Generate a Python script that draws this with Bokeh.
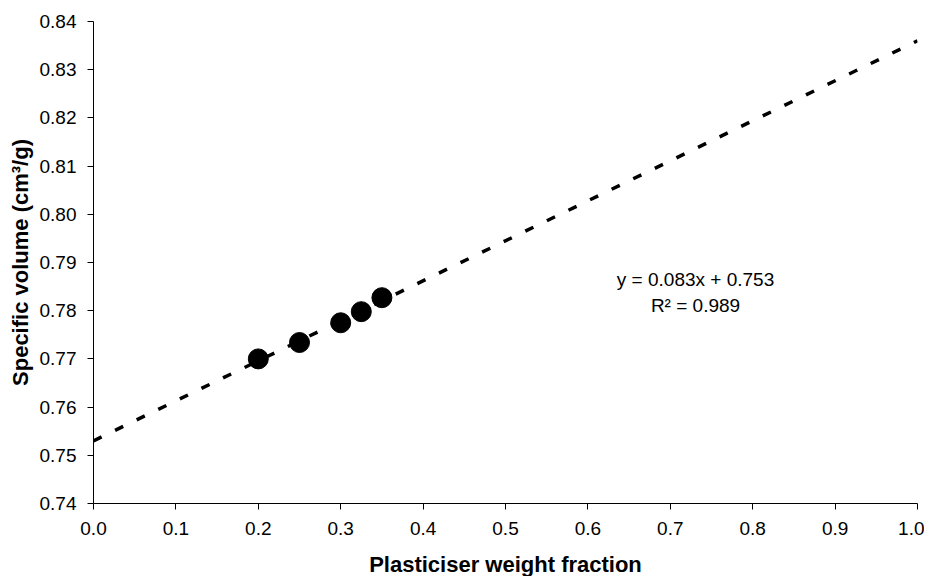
from bokeh.plotting import figure
from bokeh.models import FixedTicker, PrintfTickFormatter, Label, Range1d
from bokeh.embed import file_html
from bokeh.resources import INLINE

# Data
plasticiser_fraction = [0.20, 0.25, 0.30, 0.325, 0.35]
specific_volume = [0.7700, 0.7734, 0.7775, 0.7798, 0.7827]

# Linear trendline (from the equation on the chart)
slope = 0.083
intercept = 0.753
r_squared = 0.989

x_ticks = [0.0, 0.1, 0.2, 0.3, 0.4, 0.5, 0.6, 0.7, 0.8, 0.9, 1.0]
y_ticks = [0.74, 0.75, 0.76, 0.77, 0.78, 0.79, 0.80, 0.81, 0.82, 0.83, 0.84]

FONT = "Liberation Sans"

p = figure(
    width=924, height=568,
    frame_width=824, frame_height=482,
    min_border_left=93, min_border_right=7, min_border_top=21, min_border_bottom=65,
    x_range=Range1d(0.0, 1.0), y_range=Range1d(0.74, 0.84),
    output_backend="svg", toolbar_location=None,
)
p.outline_line_color = None
p.xgrid.visible = False
p.ygrid.visible = False
p.background_fill_color = "white"
p.border_fill_color = "white"

# trendline
trend_x = [x_ticks[0], x_ticks[-1]]
trend_y = [slope * v + intercept for v in trend_x]
p.line(trend_x, trend_y, line_color="black", line_width=3.5, line_dash="9 15", line_cap="butt")

# data points
p.scatter(plasticiser_fraction, specific_volume, size=20, fill_color="black", line_color="black")

for ax, ticks, fmt in ((p.xaxis, x_ticks, "%.1f"), (p.yaxis, y_ticks, "%.2f")):
    ax.ticker = FixedTicker(ticks=ticks)
    ax.formatter = PrintfTickFormatter(format=fmt)
    ax.minor_tick_line_color = None
    ax.major_tick_in = 0
    ax.major_tick_out = 6
    ax.axis_line_color = "black"
    ax.major_tick_line_color = "black"
    ax.major_label_text_font = FONT
    ax.major_label_text_font_size = "19px"
    ax.major_label_text_color = "black"
    ax.axis_label_text_font = FONT
    ax.axis_label_text_font_size = "22px"
    ax.axis_label_text_font_style = "bold"
    ax.axis_label_text_color = "black"

p.xaxis.axis_label = "Plasticiser weight fraction"
p.yaxis.axis_label = "Specific volume (cm³/g)"
p.xaxis.major_label_standoff = 12
p.yaxis.major_label_standoff = 11
p.xaxis.axis_label_standoff = 14
p.yaxis.axis_label_standoff = 4

eq_text = f"y = {slope:.3f}x + {intercept:.3f}"
r2_text = f"R² = {r_squared:.3f}"
p.add_layout(Label(x=0.7306, y=0.7865, text=eq_text, text_align="center", text_baseline="middle",
                   text_font=FONT, text_font_size="19px", text_color="black"))
p.add_layout(Label(x=0.7306, y=0.7810, text=r2_text, text_align="center", text_baseline="middle",
                   text_font=FONT, text_font_size="19px", text_color="black"))

open("out.html", "w").write(file_html(p, INLINE))
